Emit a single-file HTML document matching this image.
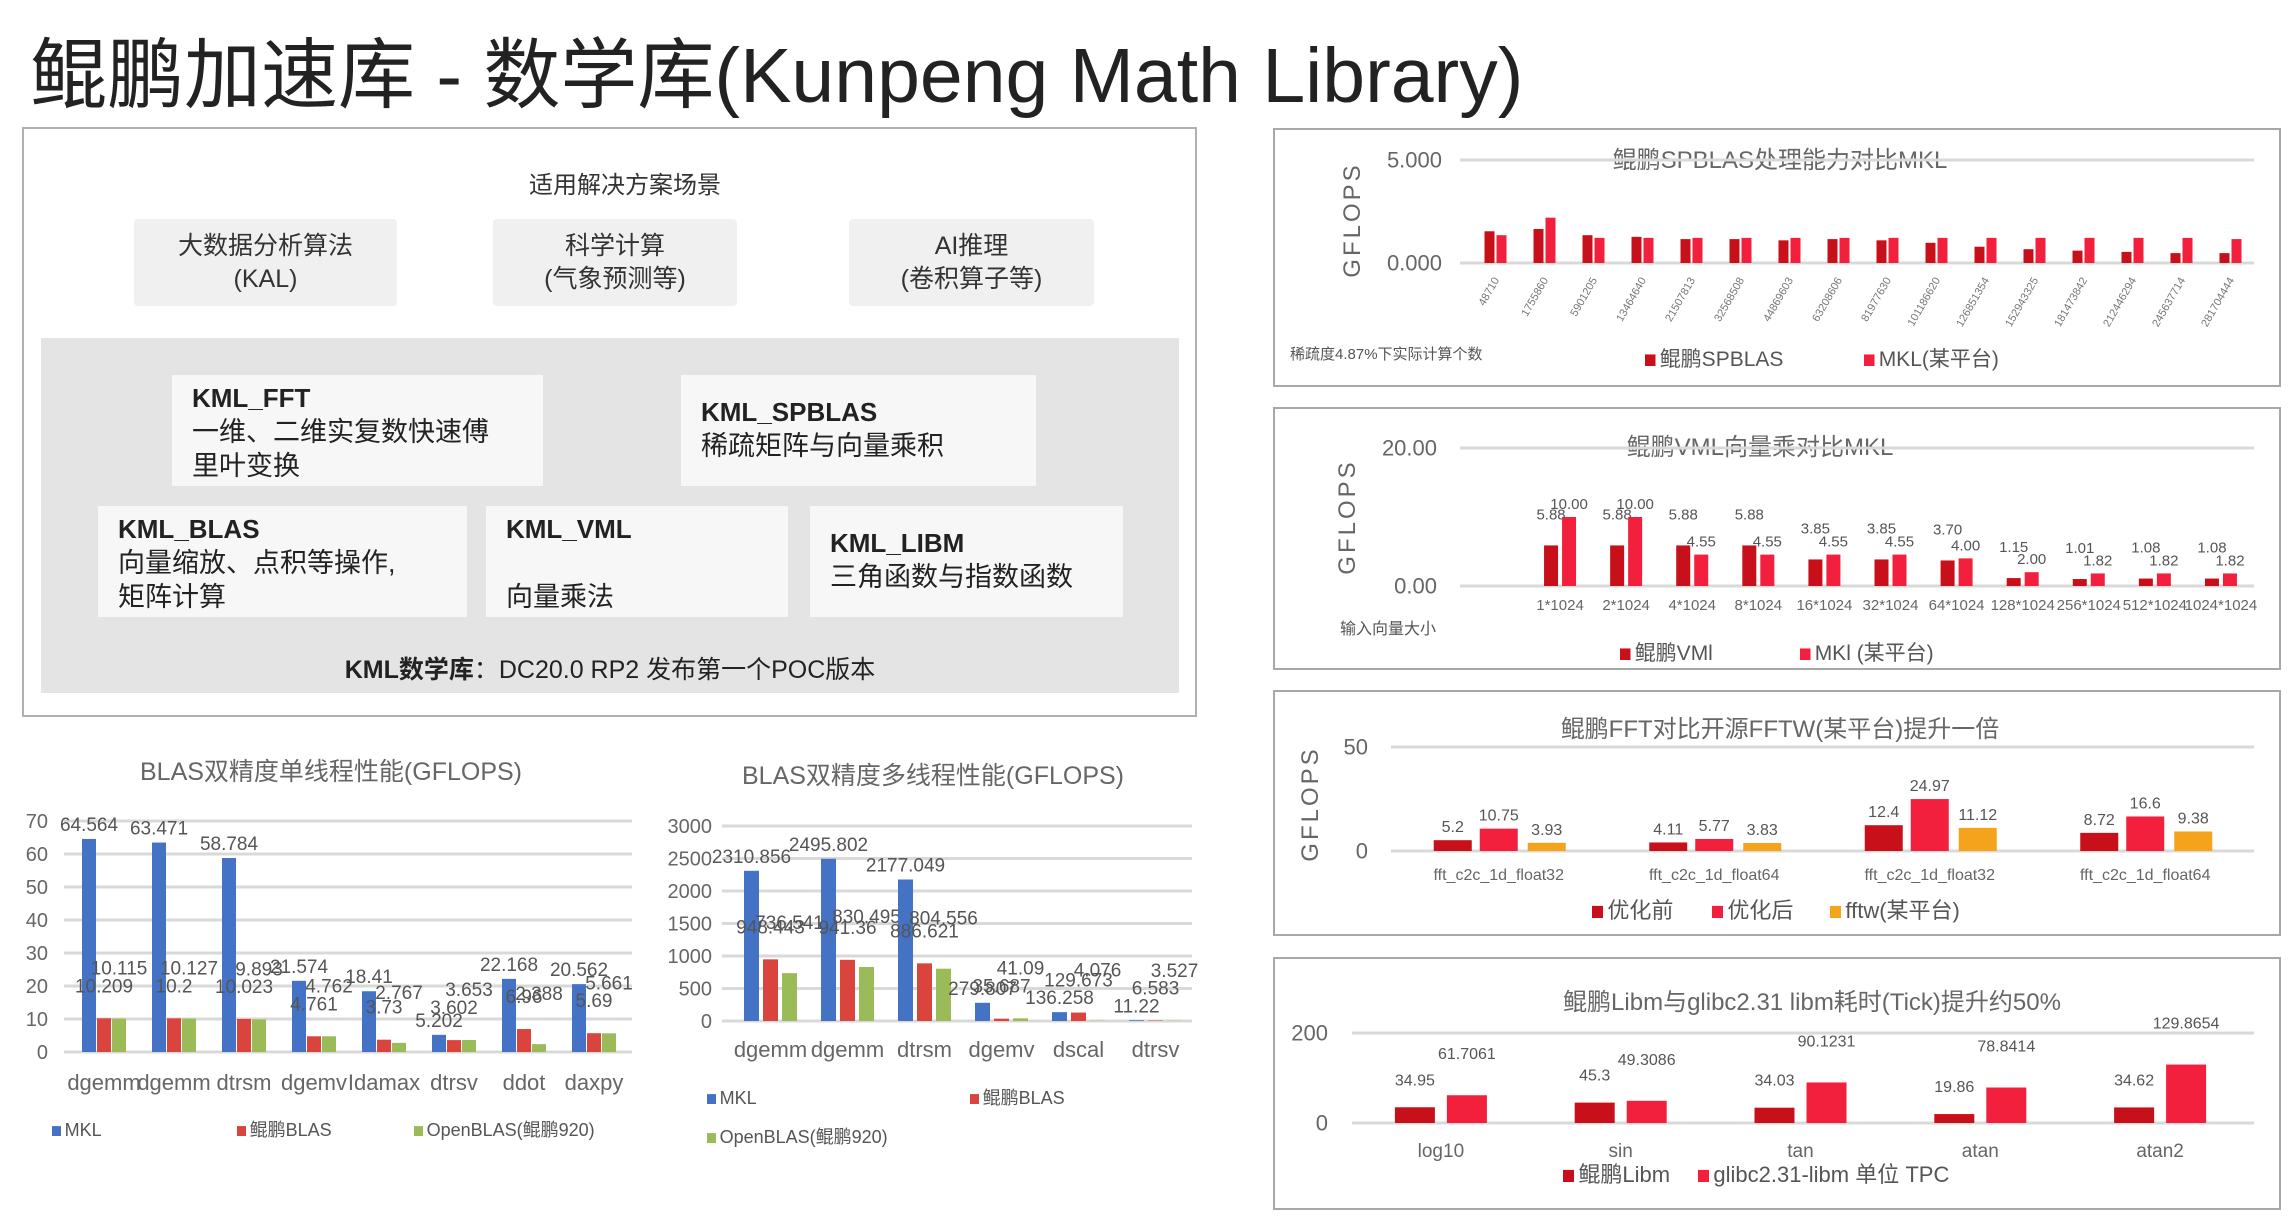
<!DOCTYPE html>
<html><head><meta charset="utf-8">
<style>
html,body{margin:0;padding:0;background:#fff;}
body{width:2288px;height:1217px;position:relative;overflow:hidden;font-family:"Liberation Sans","Noto Sans CJK SC",sans-serif;color:#333;}
.abs{position:absolute;}
.title{left:30px;top:14px;font-size:77px;color:#222;white-space:nowrap;}
.frame{left:22px;top:127px;width:1175px;height:590px;border:2px solid #b0b0b0;box-sizing:border-box;}
.scene{background:#f0f0f0;font-size:25px;text-align:center;display:flex;flex-direction:column;justify-content:center;line-height:33px;color:#333;border-radius:4px;}
.inner{left:41px;top:338px;width:1138px;height:355px;background:#e4e4e4;}
.mod{background:#f7f7f7;font-size:27px;line-height:34px;color:#222;box-sizing:border-box;padding:6px 0 0 20px;}
.mod b{font-size:26px;}
.panel{border:2px solid #a8a8a8;box-sizing:border-box;background:#fff;}
svg text{font-family:"Liberation Sans","Noto Sans CJK SC",sans-serif;}
</style></head>
<body>
<div class="abs title">鲲鹏加速库 - 数学库(Kunpeng Math Library)</div>
<div class="abs frame"></div>
<div class="abs" style="left:425px;top:165px;width:400px;text-align:center;font-size:24px;">适用解决方案场景</div>
<div class="abs scene" style="left:134px;top:219px;width:263px;height:87px;"><div>大数据分析算法</div><div>(KAL)</div></div>
<div class="abs scene" style="left:493px;top:219px;width:244px;height:87px;"><div>科学计算</div><div>(气象预测等)</div></div>
<div class="abs scene" style="left:849px;top:219px;width:245px;height:87px;"><div>AI推理</div><div>(卷积算子等)</div></div>
<div class="abs inner"></div>
<div class="abs mod" style="left:172px;top:375px;width:371px;height:111px;"><b>KML_FFT</b><br>一维、二维实复数快速傅<br>里叶变换</div>
<div class="abs mod" style="left:681px;top:375px;width:355px;height:111px;padding-top:20px;"><b>KML_SPBLAS</b><br>稀疏矩阵与向量乘积</div>
<div class="abs mod" style="left:98px;top:506px;width:369px;height:111px;"><b>KML_BLAS</b><br>向量缩放、点积等操作,<br>矩阵计算</div>
<div class="abs mod" style="left:486px;top:506px;width:302px;height:111px;"><b>KML_VML</b><br><br>向量乘法</div>
<div class="abs mod" style="left:810px;top:506px;width:313px;height:111px;padding-top:20px;"><b>KML_LIBM</b><br>三角函数与指数函数</div>
<div class="abs" style="left:210px;top:650px;width:800px;text-align:center;font-size:25px;color:#222;"><b>KML数学库</b>：DC20.0 RP2 发布第一个POC版本</div>

<div class="abs panel" style="left:1273px;top:128px;width:1008px;height:259px;"></div>
<div class="abs panel" style="left:1273px;top:407px;width:1008px;height:263px;"></div>
<div class="abs panel" style="left:1273px;top:690px;width:1008px;height:246px;"></div>
<div class="abs panel" style="left:1273px;top:957px;width:1008px;height:253px;"></div>

<svg id="charts" class="abs" style="left:0;top:0" width="2288" height="1217"></svg>

<script>
// ---- BLAS single thread ----
const blas1Cats = ['dgemm','dgemm','dtrsm','dgemv','Idamax','dtrsv','ddot','daxpy'];
const blas1MKL = [64.564,63.471,58.784,21.574,18.41,5.202,22.168,20.562];
const blas1KP = [10.209,10.2,10.023,4.761,3.73,3.602,6.96,5.69];
const blas1Open = [10.115,10.127,9.893,4.762,2.767,3.653,2.388,5.661];
const blas1Ticks = [0,10,20,30,40,50,60,70];
// ---- BLAS multi thread ----
const blas2Cats = ['dgemm','dgemm','dtrsm','dgemv','dscal','dtrsv'];
const blas2MKL = [2310.856,2495.802,2177.049,279.807,136.258,11.22];
const blas2KP = [948.443,941.36,886.621,35.687,129.673,6.583];
const blas2Open = [736.541,830.495,804.556,41.09,4.076,3.527];
const blas2Ticks = [0,500,1000,1500,2000,2500,3000];
// ---- SPBLAS ----
const spCats = ['48710','1755860','5901205','13464640','21507813','32568508','44869603','63208606','81977630','101186620','126851354','152943325','181473842','212446294','245637714','281704444'];
const spKP = [1.54,1.65,1.35,1.27,1.16,1.16,1.1,1.16,1.1,0.98,0.79,0.67,0.6,0.54,0.48,0.48];
const spMKL = [1.35,2.2,1.22,1.22,1.22,1.22,1.22,1.22,1.22,1.22,1.22,1.22,1.22,1.22,1.22,1.16];
const spTicks = [0,5];
const spTickLabels = ['0.000','5.000'];
// ---- VML ----
const vmlCats = ['1*1024','2*1024','4*1024','8*1024','16*1024','32*1024','64*1024','128*1024','256*1024','512*1024','1024*1024'];
const vmlKP = [5.88,5.88,5.88,5.88,3.85,3.85,3.70,1.15,1.01,1.08,1.08];
const vmlMKL = [10.00,10.00,4.55,4.55,4.55,4.55,4.00,2.00,1.82,1.82,1.82];
const vmlTicks = [0,20];
const vmlTickLabels = ['0.00','20.00'];
// ---- FFT ----
const fftCats = ['fft_c2c_1d_float32','fft_c2c_1d_float64','fft_c2c_1d_float32','fft_c2c_1d_float64'];
const fftBefore = [5.2,4.11,12.4,8.72];
const fftAfter = [10.75,5.77,24.97,16.6];
const fftFFTW = [3.93,3.83,11.12,9.38];
const fftTicks = [0,50];
// ---- Libm ----
const libmCats = ['log10','sin','tan','atan','atan2'];
const libmKP = [34.95,45.3,34.03,19.86,34.62];
const libmGlibc = [61.7061,49.3086,90.1231,78.8414,129.8654];
const libmTicks = [0,200];

const NS = 'http://www.w3.org/2000/svg';
const svg = document.getElementById('charts');
function mk(tag, parent){ const e = document.createElementNS(NS, tag); parent.appendChild(e); return e; }
function txt(parent, x, y, s, size, color, anchor){
  const t = mk('text', parent);
  t.setAttribute('x', x); t.setAttribute('y', y);
  t.setAttribute('font-size', size); t.setAttribute('fill', color || '#555');
  t.setAttribute('text-anchor', anchor || 'middle');
  t.textContent = s;
  return t;
}

function chart(name, g, cats, series, colors, ticks, tickLabels, fmt) {
  const grp = mk('g', svg);
  
  
  const yMax = ticks[ticks.length-1];
  const yS = v => g.yBase - v / yMax * (g.yBase - g.yTop);
  const step = (g.x1 - g.x0) / cats.length;
  const xS = i => g.x0 + (i + 0.5) * step;
  ticks.forEach((t, k) => {
    const ln = mk('line', grp);
    
    
    ln.setAttribute('x1', g.gx0); ln.setAttribute('x2', g.gx1);
    ln.setAttribute('y1', yS(t)); ln.setAttribute('y2', yS(t));
    ln.setAttribute('stroke', '#d9d9d9'); ln.setAttribute('stroke-width', 3);
    const tl = txt(grp, g.tickX, yS(t) + g.tickSize*0.35, tickLabels ? tickLabels[k] : String(t), g.tickSize, '#666', 'end');
    
    
  });
  cats.forEach((c, i) => {
    series.forEach((vals, s) => {
      const v = vals[i];
      const r = mk('rect', grp);
      
      
      const cx = xS(i) + g.offsets[s];
      r.setAttribute('x', cx - g.barW/2); r.setAttribute('width', g.barW);
      r.setAttribute('y', yS(v)); r.setAttribute('height', g.yBase - yS(v));
      r.setAttribute('fill', colors[s]);
      if (fmt) {
        const vl = txt(grp, cx, yS(v) - 8 - (g.labelLift ? g.labelLift[s] : 0), fmt(v), g.valSize, '#555');
        
        
      }
    });
    let cl;
    if (g.rotate) {
      cl = txt(grp, 0, 0, c, g.catSize, '#777', 'end');
      cl.setAttribute('transform', 'translate(' + (xS(i)+4) + ',' + g.labelY + ') rotate(-60)');
    } else {
      cl = txt(grp, xS(i), g.labelY, c, g.catSize, '#666');
    }
    
    
  });
}
function legend(items, y, size){
  items.forEach(it => {
    const r = mk('rect', svg);
    
    
    r.setAttribute('x', it[0]); r.setAttribute('y', y - size*0.55); r.setAttribute('width', size*0.5); r.setAttribute('height', size*0.55);
    r.setAttribute('fill', it[2]);
    const t = txt(svg, it[0] + size*0.7, y, it[1], size, '#555', 'start');
    
    
  });
}
function label(x, y, s, size, color, name, rot){
  const t = txt(svg, x, y, s, size, color || '#666');
  if (rot) { t.setAttribute('transform', 'rotate(-90 ' + x + ' ' + y + ')'); t.setAttribute('letter-spacing', '3'); }
  
  
  return t;
}

const BLUE = '#4472c4', RED = '#d9443c', GREEN = '#9bbb59';
const DRED = '#c8101a', BRED = '#f2203c', ORANGE = '#f5a31a';

// BLAS single
label(331, 780, 'BLAS双精度单线程性能(GFLOPS)', 25, '#666', 'blas-single-title');
chart('blas-single-chart', {x0:69,x1:629,gx0:64,gx1:632,yTop:821,yBase:1052,tickX:48,tickSize:20,barW:14,offsets:[-15,0,15],valSize:19,labelY:1090,catSize:22,labelLift:[0,18,36]},
  blas1Cats, [blas1MKL, blas1KP, blas1Open], [BLUE, RED, GREEN], blas1Ticks, null, v => String(v));
legend([[52,'MKL',BLUE],[237,'鲲鹏BLAS',RED],[414,'OpenBLAS(鲲鹏920)',GREEN]], 1136, 18);

// BLAS multi
label(933, 784, 'BLAS双精度多线程性能(GFLOPS)', 25, '#666', 'blas-multi-title');
chart('blas-multi-chart', {x0:732,x1:1194,gx0:722,gx1:1192,yTop:826,yBase:1021,tickX:712,tickSize:20,barW:15,offsets:[-19,0,19],valSize:19,labelY:1057,catSize:22,labelLift:[0,18,36]},
  blas2Cats, [blas2MKL, blas2KP, blas2Open], [BLUE, RED, GREEN], blas2Ticks, null, v => String(v));
legend([[707,'MKL',BLUE],[970,'鲲鹏BLAS',RED]], 1104, 18);
legend([[707,'OpenBLAS(鲲鹏920)',GREEN]], 1143, 18);

// SPBLAS
label(1780, 168, '鲲鹏SPBLAS处理能力对比MKL', 24, '#666', 'spblas-title');
label(1360, 220, 'GFLOPS', 24, '#666', 'spblas-y-axis-title', true);
chart('spblas-chart', {x0:1471,x1:2255,gx0:1460,gx1:2254,yTop:160,yBase:263,tickX:1442,tickSize:22,barW:10,offsets:[-6,6],valSize:14,labelY:280,catSize:11,rotate:true},
  spCats, [spKP, spMKL], [DRED, BRED], spTicks, spTickLabels, null);
const fn = label(1290, 359, '稀疏度4.87%下实际计算个数', 15, '#555', 'spblas-footnote');
fn.setAttribute('text-anchor', 'start');
legend([[1645,'鲲鹏SPBLAS',DRED],[1864,'MKL(某平台)',BRED]], 366, 21);

// VML
label(1760, 455, '鲲鹏VML向量乘对比MKL', 24, '#666', 'vml-title');
label(1355, 517, 'GFLOPS', 24, '#666', 'vml-y-axis-title', true);
chart('vml-chart', {x0:1527,x1:2254,gx0:1460,gx1:2254,yTop:448,yBase:586,tickX:1437,tickSize:22,barW:14,offsets:[-9,9],valSize:15,labelY:610,catSize:15,labelLift:[18,0]},
  vmlCats, [vmlKP, vmlMKL], [DRED, BRED], vmlTicks, vmlTickLabels, v => v.toFixed(2));
label(1388, 634, '输入向量大小', 16, '#555', 'vml-x-axis-title');
legend([[1620,'鲲鹏VMl',DRED],[1800,'MKl (某平台)',BRED]], 660, 21);

// FFT
label(1780, 737, '鲲鹏FFT对比开源FFTW(某平台)提升一倍', 24, '#666', 'fft-title');
label(1318, 804, 'GFLOPS', 24, '#666', 'fft-y-axis-title', true);
chart('fft-chart', {x0:1391,x1:2253,gx0:1391,gx1:2254,yTop:747,yBase:851,tickX:1368,tickSize:22,barW:38,offsets:[-46,0,48],valSize:16,labelY:880,catSize:16},
  fftCats, [fftBefore, fftAfter, fftFFTW], [DRED, BRED, ORANGE], fftTicks, null, v => String(v));
legend([[1592,'优化前',DRED],[1712,'优化后',BRED],[1830,'fftw(某平台)',ORANGE]], 918, 22);

// Libm
label(1812, 1010, '鲲鹏Libm与glibc2.31 libm耗时(Tick)提升约50%', 24, '#666', 'libm-title');
chart('libm-chart', {x0:1351,x1:2250,gx0:1352,gx1:2254,yTop:1033,yBase:1123,tickX:1328,tickSize:22,barW:40,offsets:[-26,26],valSize:16,labelY:1157,catSize:19,labelLift:[14,28]},
  libmCats, [libmKP, libmGlibc], [DRED, BRED], libmTicks, null, v => String(v));
legend([[1563,'鲲鹏Libm',DRED],[1698,'glibc2.31-libm 单位 TPC',BRED]], 1182, 22);
</script>
</body></html>
